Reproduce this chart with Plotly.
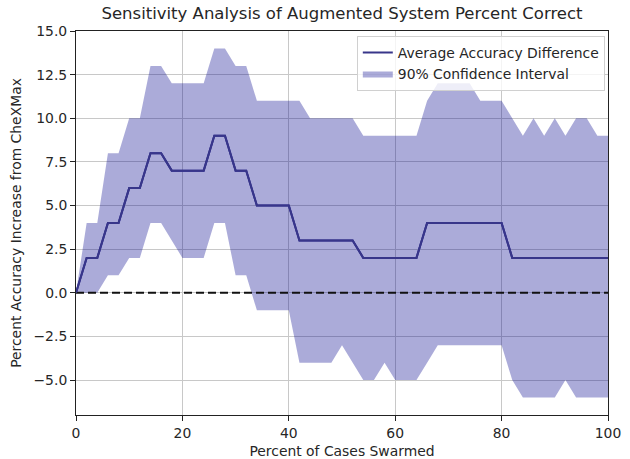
import plotly.graph_objects as go

pct_swarmed = [0, 2, 4, 6, 8, 10, 12, 14, 16, 18, 20, 22, 24, 26, 28, 30, 32, 34, 36, 38,
               40, 42, 44, 46, 48, 50, 52, 54, 56, 58, 60, 62, 64, 66, 68, 70, 72, 74, 76, 78,
               80, 82, 84, 86, 88, 90, 92, 94, 96, 98, 100]
mean_diff = [0, 2, 2, 4, 4, 6, 6, 8, 8, 7, 7, 7, 7, 9, 9, 7, 7, 5, 5, 5,
             5, 3, 3, 3, 3, 3, 3, 2, 2, 2, 2, 2, 2, 4, 4, 4, 4, 4, 4, 4,
             4, 2, 2, 2, 2, 2, 2, 2, 2, 2, 2]
ci_upper = [0, 4, 4, 8, 8, 10, 10, 13, 13, 12, 12, 12, 12, 14, 14, 13, 13, 11, 11, 11,
            11, 11, 10, 10, 10, 10, 10, 9, 9, 9, 9, 9, 9, 11, 12, 12, 12, 12, 11, 11,
            11, 10, 9, 10, 9, 10, 9, 10, 10, 9, 9]
ci_lower = [0, 0, 0, 1, 1, 2, 2, 4, 4, 3, 2, 2, 2, 4, 4, 1, 1, -1, -1, -1,
            -1, -4, -4, -4, -4, -3, -4, -5, -5, -4, -5, -5, -5, -4, -3, -3, -3, -3, -3, -3,
            -3, -5, -6, -6, -6, -6, -5, -6, -6, -6, -6]
zero_x = [0, 100]
zero_y = [0, 0]

x_ticks = [0, 20, 40, 60, 80, 100]
y_ticks = [-5, -2.5, 0, 2.5, 5, 7.5, 10, 12.5, 15]
y_ticklabels = ["\u22125.0", "\u22122.5", "0.0", "2.5", "5.0", "7.5", "10.0", "12.5", "15.0"]

FONT = "DejaVu Sans"
TXT = "#262626"
FS = 13.9

fig = go.Figure()
fig.add_trace(go.Scatter(x=pct_swarmed, y=mean_diff, mode="lines",
                         line=dict(color="rgb(56,54,138)", width=2),
                         name="Average Accuracy Difference"))
fig.add_trace(go.Scatter(x=pct_swarmed, y=ci_lower, mode="lines",
                         line=dict(width=0, color="rgba(0,0,139,0)"),
                         showlegend=False, hoverinfo="skip"))
fig.add_trace(go.Scatter(x=pct_swarmed, y=ci_upper, mode="lines", fill="tonexty",
                         fillcolor="rgba(0,0,139,0.33)",
                         line=dict(width=0, color="rgba(0,0,139,0)"),
                         name="90% Confidence Interval"))
fig.add_trace(go.Scatter(x=zero_x, y=zero_y, mode="lines",
                         line=dict(color="#111111", width=2, dash="8px,4px"),
                         showlegend=False, hoverinfo="skip"))
fig.add_trace(go.Scatter(x=pct_swarmed, y=mean_diff, mode="lines",
                         line=dict(color="rgb(56,54,138)", width=2),
                         showlegend=False, hoverinfo="skip"))

fig.update_layout(
    width=630, height=459,
    margin=dict(l=76, r=22, t=31, b=44),
    paper_bgcolor="white", plot_bgcolor="white",
    font=dict(family=FONT, size=FS, color=TXT),
    title=dict(text="Sensitivity Analysis of Augmented System Percent Correct",
               x=0.5, xref="paper", xanchor="center", y=0.972, yanchor="middle",
               font=dict(family=FONT, size=16.5, color=TXT)),
    legend=dict(x=0.994, y=0.987, xanchor="right", yanchor="top", traceorder="normal",
                bgcolor="rgba(255,255,255,0.8)", bordercolor="#d0d0d0", borderwidth=1,
                font=dict(family=FONT, size=FS, color=TXT),
                tracegroupgap=0, itemwidth=30),
    showlegend=True,
)
fig.update_xaxes(range=[0, 100], tickvals=x_ticks, ticktext=[str(v) for v in x_ticks],
                 showgrid=True, gridcolor="#c8c8c8", gridwidth=1, zeroline=False,
                 showline=True, linecolor="#222222", linewidth=1, mirror=True,
                 ticks="outside", ticklen=5, tickcolor="#222222", automargin=False,
                 title=dict(text="Percent of Cases Swarmed", standoff=7,
                            font=dict(family=FONT, size=FS, color=TXT)))
fig.update_yaxes(range=[-7, 15], tickvals=y_ticks, ticktext=y_ticklabels,
                 showgrid=True, gridcolor="#c8c8c8", gridwidth=1, zeroline=False,
                 showline=True, linecolor="#222222", linewidth=1, mirror=True,
                 ticks="outside", ticklen=5, tickcolor="#222222", automargin=False,
                 title=dict(text="Percent Accuracy Increase from CheXMax", standoff=8,
                            font=dict(family=FONT, size=FS, color=TXT)))

fig.write_html("out.html")
